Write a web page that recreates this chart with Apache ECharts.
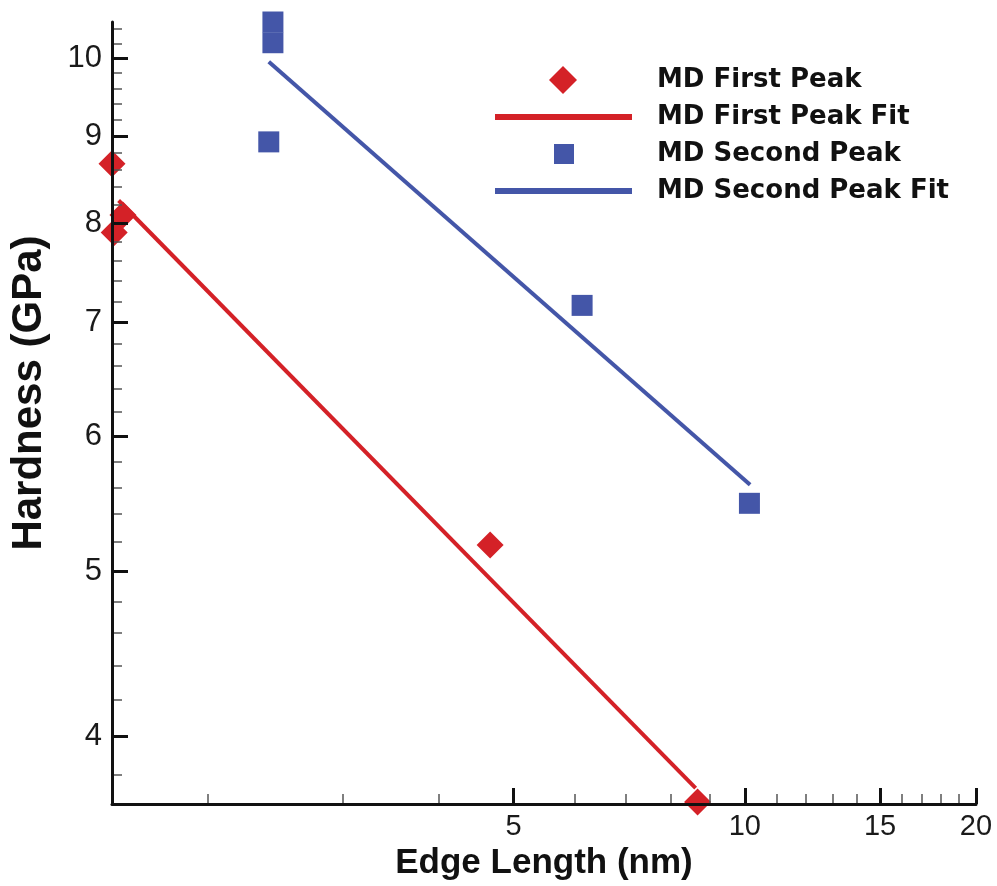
<!DOCTYPE html>
<html>
<head>
<meta charset="utf-8">
<script src="https://cdn.jsdelivr.net/npm/echarts@6/dist/echarts.min.js"></script>
<style>
html,body{margin:0;padding:0;background:#fff;}
#chart{width:997px;height:886px;}
</style>
</head>
<body>
<div id="chart"></div>
<script>
// ---- data ----
const firstPeakX = [1.5, 1.51, 1.55, 4.66, 8.68];
const firstPeakY = [8.67, 7.90, 8.09, 5.18, 3.66];
const firstFitX = [1.53, 8.63];
const firstFitY = [8.25, 3.73];
const secondPeakX = [2.43, 2.43, 2.40, 6.14, 10.14];
const secondPeakY = [10.5, 10.21, 8.93, 7.16, 5.48];
const secondFitX = [2.40, 10.16];
const secondFitY = [9.95, 5.62];
const xMajorTicks = [5, 10, 15, 20];
const xMinorTicks = [2, 3, 4, 6, 7, 8, 9, 11, 12, 13, 14, 16, 17, 18, 19];
const yMajorTicks = [4, 5, 6, 7, 8, 9, 10];
const yMinorTicks = [3.8, 4.2, 4.4, 4.6, 4.8, 5.2, 5.4, 5.6, 5.8, 6.2, 6.4, 6.6, 6.8,
  7.2, 7.4, 7.6, 7.8, 8.2, 8.4, 8.6, 8.8, 9.2, 9.4, 9.6, 9.8, 10.2, 10.4];
const seriesNames = ['MD First Peak', 'MD First Peak Fit', 'MD Second Peak', 'MD Second Peak Fit'];

const RED = '#d42127';
const BLUE = '#4456a8';
const pairs = (xs, ys) => xs.map((x, i) => [x, ys[i]]);

const X_MIN = 1.5, X_MAX = 20, Y_MIN = 3.65, Y_MAX = 10.5;

function majorAxis(dim) {
  const isX = dim === 'x';
  return {
    type: 'log', logBase: 10,
    min: isX ? X_MIN : Y_MIN, max: isX ? X_MAX : Y_MAX,
    position: isX ? 'bottom' : 'left',
    z: 10,
    axisLine: {show: true, onZero: false, lineStyle: {color: '#111', width: 3}},
    axisTick: {show: true, inside: true, length: 16, lineStyle: {color: '#111', width: 3},
      customValues: isX ? xMajorTicks : yMajorTicks},
    minorTick: {show: false},
    splitLine: {show: false},
    axisLabel: {show: true, customValues: isX ? xMajorTicks : yMajorTicks,
      color: '#1a1a1a', fontFamily: 'Liberation Sans, Arial, sans-serif', fontSize: isX ? 29 : 31,
      margin: isX ? 8 : 10,
      formatter: v => String(Math.round(v))},
    name: isX ? 'Edge Length (nm)' : 'Hardness (GPa)',
    nameLocation: 'middle',
    nameGap: isX ? 27 : 62,
    nameTextStyle: isX
      ? {color: '#111', fontFamily: 'Liberation Sans, Arial, sans-serif', fontWeight: 'bold', fontSize: 35}
      : {color: '#111', fontFamily: 'Liberation Sans, Arial, sans-serif', fontWeight: 'bold', fontSize: 42,
         padding: [0, 0, 0, 40]}
  };
}
function minorAxis(dim) {
  const isX = dim === 'x';
  return {
    type: 'log', logBase: 10,
    min: isX ? X_MIN : Y_MIN, max: isX ? X_MAX : Y_MAX,
    position: isX ? 'bottom' : 'left',
    z: 9,
    axisLine: {show: false, onZero: false},
    axisTick: {show: true, inside: true, length: 10, lineStyle: {color: '#555', width: 1.5},
      customValues: isX ? xMinorTicks : yMinorTicks},
    axisLabel: {show: false},
    splitLine: {show: false}
  };
}

const chart = echarts.init(document.getElementById('chart'), null, {renderer: 'canvas'});
chart.setOption({
  animation: false,
  backgroundColor: '#fff',
  grid: {left: 110, right: 21, top: 22, bottom: 66, containLabel: false},
  xAxis: [majorAxis('x'), minorAxis('x')],
  yAxis: [majorAxis('y'), minorAxis('y')],
  legend: {
    orient: 'vertical', left: 495, top: 66, padding: 0,
    itemWidth: 157, itemHeight: 28, itemGap: 9,
    symbolKeepAspect: true,
    textStyle: {color: '#111', fontFamily: 'DejaVu Sans, sans-serif', fontWeight: 'bold', fontSize: 26},
    data: [
      {name: seriesNames[0], icon: 'path://M0,0M157,28M68,0L82,14L68,28L54,14Z'},
      {name: seriesNames[1], icon: 'path://M0,0M157,28M0,11H137V17H0Z'},
      {name: seriesNames[2], icon: 'path://M0,0M157,28M59,4H79V24H59Z'},
      {name: seriesNames[3], icon: 'path://M0,0M157,28M0,11H137V17H0Z'}
    ]
  },
  series: [
    {name: seriesNames[1], type: 'line', data: pairs(firstFitX, firstFitY), symbol: 'none',
      lineStyle: {color: RED, width: 4}, itemStyle: {color: RED}, clip: false, z: 2},
    {name: seriesNames[3], type: 'line', data: pairs(secondFitX, secondFitY), symbol: 'none',
      lineStyle: {color: BLUE, width: 4}, itemStyle: {color: BLUE}, clip: false, z: 2},
    {name: seriesNames[0], type: 'scatter', data: pairs(firstPeakX, firstPeakY), symbol: 'diamond',
      symbolSize: 27, itemStyle: {color: RED, opacity: 1}, clip: false, z: 3},
    {name: seriesNames[2], type: 'scatter', data: pairs(secondPeakX, secondPeakY), symbol: 'rect',
      symbolSize: 21, itemStyle: {color: BLUE, opacity: 1}, clip: false, z: 3}
  ]
});
</script>
</body>
</html>
